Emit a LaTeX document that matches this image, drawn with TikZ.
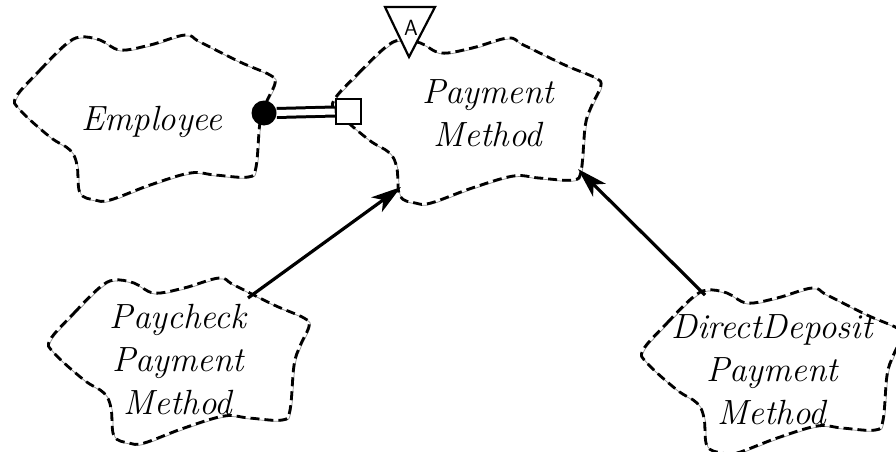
\documentclass[tikz,border=0pt]{standalone}
\usetikzlibrary{arrows.meta}
\begin{document}
\begin{tikzpicture}[x=1pt,y=-1pt,
  cloudline/.style={line width=2.8pt,dash pattern=on 9pt off 5pt},
  cloudghost/.style={line width=0.7pt,black!45},
  classname/.style={font=\fontsize{35}{43}\selectfont\itshape,align=center,inner sep=0pt},
  inherit/.style={line width=3.2pt,-{Stealth[length=30pt,width=18pt,inset=8pt]}},
  hasline/.style={line width=3pt,double=white,double distance=6pt}]
\useasboundingbox (0,0) rectangle (896,452);
% one Booch cloud outline, given relative to its left tip
\def\cloudpts{(0,0) (24,-27) (49,-52) (64,-60) (84,-57) (104,-47) (134,-52)
  (169,-62) (184,-55) (224,-35) (254,-22) (259,-14) (250,6) (244,25)
  (240,70) (232,80) (199,78) (174,76) (134,88) (94,103) (79,103) (64,96)
  (61,68) (54,53) (34,40) (4,13)}
\newcommand\boochcloud[2]{%
  \begin{scope}[shift={#1},#2]
    \draw[cloudghost,shift={(1,1)}] plot[smooth cycle,tension=0.6] coordinates {\cloudpts};
    \draw[cloudline] plot[smooth cycle,tension=0.6] coordinates {\cloudpts};
  \end{scope}}
% clouds
\boochcloud{(16,97)}{}
\boochcloud{(334,100)}{xscale=1.03}
\boochcloud{(50,340)}{}
\boochcloud{(643,350)}{}
% class names
\node[classname] (emp) at (152,122) {Employee};
\node[classname] (pm) at (488,113) {Payment\\Method};
\node[classname] (pc) at (178,360) {Paycheck\\Payment\\Method};
\node[classname] (dd) at (772,370) {DirectDeposit\\Payment\\Method};
% connector ends on the cloud outlines
\coordinate (pmbl) at (401,187);
\coordinate (pmbr) at (578,169);
\coordinate (pctop) at (248,298);
\coordinate (ddtop) at (705,295);
% has relationship: filled dot at the owner, hollow square at the part
\node[circle,fill=black,minimum size=25pt,inner sep=0pt] (hasdot) at (264,113) {};
\node[draw,line width=2.6pt,fill=white,minimum size=25pt,inner sep=0pt] (hassq) at (348.5,111.5) {};
\draw[hasline] (hasdot.east) -- (hassq.west);
% abstract class adornment
\draw[line width=2.2pt,line join=miter,fill=white] (385,7) -- (435,7) -- (409,57) -- cycle;
\node[font=\sffamily\fontsize{22}{22}\selectfont,inner sep=0pt] (abs) at (411,28) {A};
% inheritance arrows
\draw[inherit] (pctop) -- (pmbl);
\draw[inherit] (ddtop) -- (pmbr);
\end{tikzpicture}
\end{document}
